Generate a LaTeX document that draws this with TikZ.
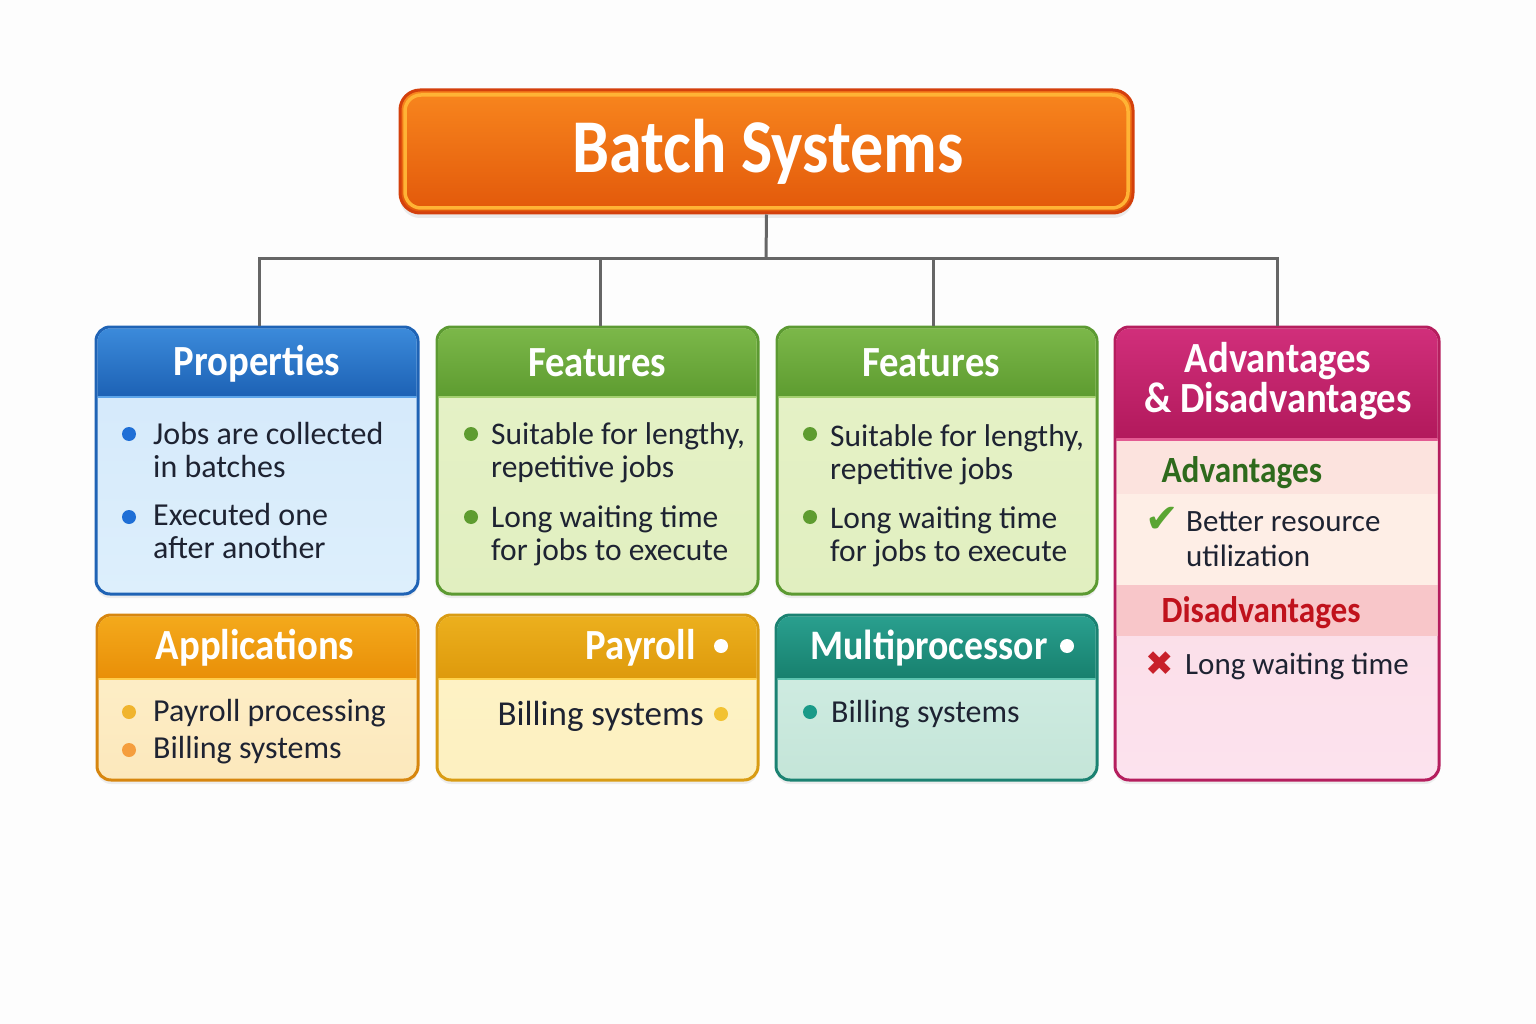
\documentclass[tikz,border=0pt]{standalone}
\usepackage{fontspec}
\setmainfont{Carlito}
\newfontfamily\headfont{Carlito}[FakeStretch=0.9]
\newfontfamily\titlefont{Carlito}[FakeStretch=0.87]
\newfontfamily\symfont{DejaVu Sans}
\usetikzlibrary{shadows}

\definecolor{bgwhite}{HTML}{FDFDFD}
\definecolor{ink}{HTML}{1E2332}
\definecolor{linkgray}{HTML}{666666}
\definecolor{titleline}{HTML}{D4400C}
\definecolor{titletop}{HTML}{F8861E}
\definecolor{titlebot}{HTML}{E2580A}
\definecolor{titleglow}{HTML}{FFB335}
\definecolor{propline}{HTML}{1F63B5}
\definecolor{prophead1}{HTML}{3C8BDB}
\definecolor{prophead2}{HTML}{1D62B5}
\definecolor{propbody1}{HTML}{D3E8FA}
\definecolor{propbody2}{HTML}{DDEFFC}
\definecolor{propsep}{HTML}{5DA5EA}
\definecolor{propdot}{HTML}{1F6FD6}
\definecolor{featline}{HTML}{5C9A32}
\definecolor{feathead1}{HTML}{7CB84A}
\definecolor{feathead2}{HTML}{5E9C30}
\definecolor{featbody1}{HTML}{E6F2C8}
\definecolor{featbody2}{HTML}{E1EFC0}
\definecolor{featsep}{HTML}{A5D070}
\definecolor{featdot}{HTML}{5E9C30}
\definecolor{advline}{HTML}{B51E5E}
\definecolor{advhead1}{HTML}{D12F7B}
\definecolor{advhead2}{HTML}{B2195C}
\definecolor{advsep}{HTML}{E35A92}
\definecolor{advband1}{HTML}{FCE3DE}
\definecolor{advband2}{HTML}{FEEEE6}
\definecolor{advband3}{HTML}{F8C6C9}
\definecolor{advbody1}{HTML}{FADADF}
\definecolor{advbody2}{HTML}{FCE2EE}
\definecolor{advgreen}{HTML}{2E6A1C}
\definecolor{advred}{HTML}{C0121C}
\definecolor{checkgreen}{HTML}{5AA532}
\definecolor{crossred}{HTML}{C8202A}
\definecolor{appline}{HTML}{D7860F}
\definecolor{apphead1}{HTML}{F4AA1C}
\definecolor{apphead2}{HTML}{E98F08}
\definecolor{appsep}{HTML}{FFCC4A}
\definecolor{appbody1}{HTML}{FEF1CC}
\definecolor{appbody2}{HTML}{FCE8BC}
\definecolor{appdot1}{HTML}{F0B42E}
\definecolor{appdot2}{HTML}{F59E3E}
\definecolor{payline}{HTML}{D99C14}
\definecolor{payhead1}{HTML}{ECB01E}
\definecolor{payhead2}{HTML}{DE9A0C}
\definecolor{paysep}{HTML}{FFD24A}
\definecolor{paybody1}{HTML}{FEF4C8}
\definecolor{paybody2}{HTML}{FDF0C0}
\definecolor{paydot}{HTML}{F2C232}
\definecolor{multline}{HTML}{1B8272}
\definecolor{multhead1}{HTML}{2AA08F}
\definecolor{multhead2}{HTML}{17806E}
\definecolor{multsep}{HTML}{5CC4B0}
\definecolor{multbody1}{HTML}{D4EFE6}
\definecolor{multbody2}{HTML}{C4E5D8}
\definecolor{multdot}{HTML}{1A9A88}

\begin{document}
\begin{tikzpicture}[x=1pt, y=-1pt,
  box/.style={line width=3pt, rounded corners=14pt, inner sep=0pt,
    drop shadow={opacity=0.12, shadow xshift=0pt, shadow yshift=-4pt}},
  head/.style={anchor=base, text=white, font=\headfont\bfseries\fontsize{43}{40}\selectfont},
  item/.style={anchor=base west, align=left, text=ink, inner sep=0pt, font=\fontsize{32}{33}\selectfont},
  link/.style={draw=linkgray, line width=3pt}]
\fill[bgwhite] (0,0) rectangle (1536,1024);
\useasboundingbox (0,0) rectangle (1536,1024);

% title
\node[draw=titleline, line width=3pt, rounded corners=20pt, top color=titletop, bottom color=titlebot,
  minimum width=733pt, minimum height=123pt,
  drop shadow={opacity=0.15, shadow xshift=0pt, shadow yshift=-5pt}] (title) at (766.5,151.5) {};
\draw[titleglow, line width=3.5pt, rounded corners=16pt] (405,95) rectangle (1128,208);
\node[anchor=base, text=white, font=\titlefont\bfseries\fontsize{76}{76}\selectfont] (titletext) at (768,173) {Batch Systems};

% boxes
\node[box, draw=propline, top color=propbody1, bottom color=propbody2, minimum width=322pt, minimum height=267pt] (props) at (257,460.5) {};
\node[box, draw=featline, top color=featbody1, bottom color=featbody2, minimum width=321pt, minimum height=267pt] (feat1) at (597.5,460.5) {};
\node[box, draw=featline, top color=featbody1, bottom color=featbody2, minimum width=320pt, minimum height=267pt] (feat2) at (937,460.5) {};
\node[box, draw=advline, top color=advbody1, bottom color=advbody2, minimum width=324pt, minimum height=453pt] (advdis) at (1277,553.5) {};
\node[box, draw=appline, top color=appbody1, bottom color=appbody2, minimum width=321pt, minimum height=165pt] (apps) at (257.5,697.5) {};
\node[box, draw=payline, top color=paybody1, bottom color=paybody2, minimum width=321pt, minimum height=165pt] (payroll) at (597.5,697.5) {};
\node[box, draw=multline, top color=multbody1, bottom color=multbody2, minimum width=321pt, minimum height=165pt] (multi) at (936.5,697.5) {};

% header bands
\begin{scope}
  \clip[rounded corners=12.5pt] (97.5,328.5) rectangle (416.5,592.5);
  \shade[top color=prophead1, bottom color=prophead2] (96,327) rectangle (418,396);
  \draw[propsep, line width=2pt] (96,397) -- (418,397);
\end{scope}
\begin{scope}
  \clip[rounded corners=12.5pt] (438.5,328.5) rectangle (756.5,592.5);
  \shade[top color=feathead1, bottom color=feathead2] (437,327) rectangle (758,396);
  \draw[featsep, line width=2pt] (437,397) -- (758,397);
\end{scope}
\begin{scope}
  \clip[rounded corners=12.5pt] (778.5,328.5) rectangle (1095.5,592.5);
  \shade[top color=feathead1, bottom color=feathead2] (777,327) rectangle (1097,396);
  \draw[featsep, line width=2pt] (777,397) -- (1097,397);
\end{scope}
\begin{scope}
  \clip[rounded corners=12.5pt] (1116.5,328.5) rectangle (1437.5,778.5);
  \shade[top color=advhead1, bottom color=advhead2] (1115,327) rectangle (1439,438);
  \draw[advsep, line width=3pt] (1115,439.5) -- (1439,439.5);
  \fill[advband1] (1115,441) rectangle (1439,494);
  \fill[advband2] (1115,494) rectangle (1439,585);
  \fill[advband3] (1115,585) rectangle (1439,636);
\end{scope}
\begin{scope}
  \clip[rounded corners=12.5pt] (98.5,616.5) rectangle (416.5,778.5);
  \shade[top color=apphead1, bottom color=apphead2] (97,615) rectangle (418,678);
  \draw[appsep, line width=2.5pt] (97,679) -- (418,679);
\end{scope}
\begin{scope}
  \clip[rounded corners=12.5pt] (438.5,616.5) rectangle (756.5,778.5);
  \shade[top color=payhead1, bottom color=payhead2] (437,615) rectangle (758,678);
  \draw[paysep, line width=2.5pt] (437,679) -- (758,679);
\end{scope}
\begin{scope}
  \clip[rounded corners=12.5pt] (777.5,616.5) rectangle (1095.5,778.5);
  \shade[top color=multhead1, bottom color=multhead2] (776,615) rectangle (1097,678);
  \draw[multsep, line width=2.5pt] (776,679) -- (1097,679);
\end{scope}

% connectors
\coordinate (bus) at (766,259);
\draw[link] (title.south) -- (bus);
\draw[link] (bus) -| ([xshift=2pt]props.north);
\draw[link] (bus) -| ([xshift=3pt]feat1.north);
\draw[link] (bus) -| ([xshift=-4pt]feat2.north);
\draw[link] (bus) -| (advdis.north);

% properties (base = last line)
\node[head] (propshead) at (257,375) {Properties};
\fill[propdot] (129,434) circle (7pt);
\node[item] (propsa) at (153,477) {Jobs are collected\\in batches};
\fill[propdot] (129,517) circle (7pt);
\node[item] (propsb) at (153,558) {Executed one\\after another};

% features
\node[head] (feat1head) at (597,376) {Features};
\fill[featdot] (471,434) circle (7pt);
\node[item, font=\fontsize{31.5}{33}\selectfont] (feat1a) at (491,477) {Suitable for lengthy,\\repetitive jobs};
\fill[featdot] (471,517) circle (7pt);
\node[item, font=\fontsize{31.5}{33}\selectfont] (feat1b) at (491,560) {Long waiting time\\for jobs to execute};
\node[head] (feat2head) at (931,376) {Features};
\fill[featdot] (810,434) circle (7pt);
\node[item, font=\fontsize{31.5}{33}\selectfont] (feat2a) at (830,479) {Suitable for lengthy,\\repetitive jobs};
\fill[featdot] (810,517) circle (7pt);
\node[item, font=\fontsize{31.5}{33}\selectfont] (feat2b) at (830,561) {Long waiting time\\for jobs to execute};

% advantages & disadvantages
\node[head, align=center] (advhead) at (1278,412) {Advantages\\\& Disadvantages};
\node[anchor=base west, text=advgreen, font=\headfont\bfseries\fontsize{37}{37}\selectfont] (advsub) at (1158,482) {Advantages};
\node[text=checkgreen, font=\symfont\fontsize{40}{40}\selectfont] (tick) at (1162,520) {✔};
\node[item, font=\fontsize{31}{35}\selectfont] (adva) at (1186,566) {Better resource\\utilization};
\node[anchor=base west, text=advred, font=\headfont\bfseries\fontsize{37}{37}\selectfont] (dissub) at (1158,622) {Disadvantages};
\node[text=crossred, font=\symfont\fontsize{34}{34}\selectfont] (cross) at (1160,664) {✖};
\node[item, font=\fontsize{31}{35}\selectfont] (disa) at (1185,674) {Long waiting time};

% applications
\node[head] (appshead) at (255,659) {Applications};
\fill[appdot1] (129,712) circle (7pt);
\node[item] (appsa) at (153,721) {Payroll processing};
\fill[appdot2] (129,750) circle (7pt);
\node[item] (appsb) at (153,758) {Billing systems};

% payroll
\node[head, anchor=base east] (payhead) at (699,659) {Payroll};
\fill[white] (721,646) circle (7pt);
\node[item, anchor=base east, font=\fontsize{35}{35}\selectfont] (paya) at (704,725) {Billing systems};
\fill[paydot] (721,714) circle (7pt);

% multiprocessor
\node[head, anchor=base west, font=\headfont\bfseries\fontsize{42}{40}\selectfont] (multhead) at (807,659) {Multiprocessor};
\fill[white] (1067,646) circle (7pt);
\fill[multdot] (810,712) circle (7pt);
\node[item] (multa) at (831,722) {Billing systems};
\end{tikzpicture}
\end{document}
